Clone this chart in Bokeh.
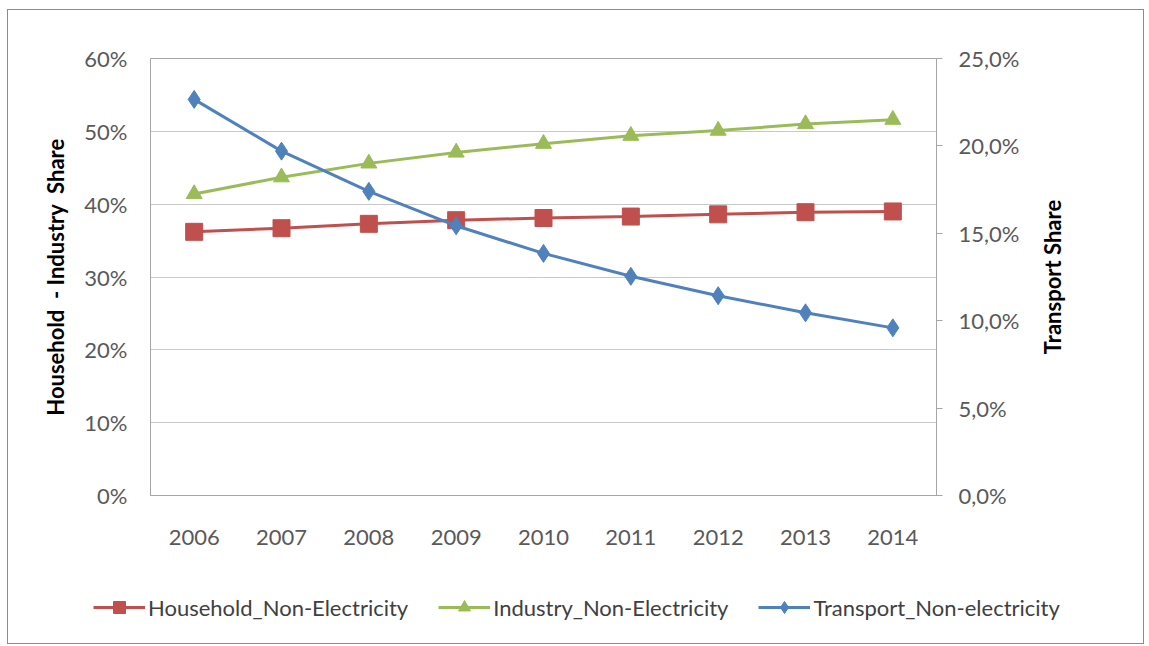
from bokeh.plotting import figure
from bokeh.models import (FactorRange, Range1d, LinearAxis, Legend, LegendItem,
                          FixedTicker, NumeralTickFormatter, CustomJSTickFormatter,
                          Title)
from bokeh.layouts import column, row
from bokeh.embed import file_html
from bokeh.resources import INLINE

years = ["2006", "2007", "2008", "2009", "2010", "2011", "2012", "2013", "2014"]
household = [0.362, 0.367, 0.373, 0.378, 0.381, 0.383, 0.386, 0.389, 0.390]
industry = [0.414, 0.437, 0.456, 0.471, 0.483, 0.494, 0.501, 0.510, 0.516]
transport = [0.2266, 0.197, 0.174, 0.1543, 0.1385, 0.1254, 0.1143, 0.1045, 0.0959]

left_ticks = [0.0, 0.1, 0.2, 0.3, 0.4, 0.5, 0.6]
right_ticks = [0.0, 0.05, 0.10, 0.15, 0.20, 0.25]

series_names = ["Household_Non-Electricity", "Industry_Non-Electricity",
                "Transport_Non-electricity"]

RED = "#C0504D"
GREEN = "#9BBB59"
BLUE = "#4F81BD"
FONT = "Lato"
TXT = "#595959"
LINE = "#A6A6A6"
FS = "22px"

MAIN_W = 1036
TOP_H = 566


def bare(fig):
    fig.outline_line_color = None
    fig.border_fill_color = None
    fig.background_fill_color = None
    fig.xgrid.grid_line_color = None
    fig.ygrid.grid_line_color = None
    if "frame_align" in fig.properties():
        fig.frame_align = False


p = figure(width=MAIN_W, height=TOP_H, x_range=FactorRange(*years),
           y_range=Range1d(0, 0.6), output_backend="svg", toolbar_location=None,
           min_border_left=150, min_border_right=MAIN_W - 936, min_border_top=58,
           min_border_bottom=71)
p.extra_y_ranges = {"right": Range1d(0, 0.25)}
if "frame_align" in p.properties():
    p.frame_align = False

p.border_fill_color = None
p.background_fill_color = "white"
p.outline_line_color = LINE
p.outline_line_width = 1

p.xgrid.grid_line_color = None
p.ygrid.grid_line_color = "#C8C8C8"
p.ygrid.grid_line_width = 1
p.ygrid.ticker = FixedTicker(ticks=left_ticks)

# left axis
ya = p.yaxis[0]
ya.ticker = FixedTicker(ticks=left_ticks)
ya.formatter = NumeralTickFormatter(format="0%")
ya.axis_label = "Household \u00a0- Industry \u00a0Share"
ya.axis_label_text_font = FONT
ya.axis_label_text_font_style = "bold"
ya.axis_label_text_font_size = FS
ya.axis_label_text_color = "black"
ya.axis_label_standoff = 12
ya.major_label_text_font = FONT
ya.major_label_text_font_size = FS
ya.major_label_text_color = TXT
ya.major_label_standoff = 17
ya.major_tick_line_color = None
ya.minor_tick_line_color = None
ya.axis_line_color = LINE

# bottom axis
xa = p.xaxis[0]
xa.major_label_text_font = FONT
xa.major_label_text_font_size = FS
xa.major_label_text_color = TXT
xa.major_label_standoff = 28
xa.major_tick_line_color = None
xa.axis_line_color = LINE

# right axis (its title sits in the strip to the right)
ra = LinearAxis(y_range_name="right")
ra.ticker = FixedTicker(ticks=right_ticks)
ra.formatter = CustomJSTickFormatter(
    code="return (tick * 100).toFixed(1).replace('.', ',') + '%';")
ra.major_label_text_font = FONT
ra.major_label_text_font_size = FS
ra.major_label_text_color = TXT
ra.major_label_standoff = 16
ra.major_tick_out = 6
ra.major_tick_in = 0
ra.major_tick_line_color = LINE
ra.minor_tick_line_color = None
ra.axis_line_color = LINE
p.add_layout(ra, "right")

# series
p.line(years, household, line_color=RED, line_width=3)
p.scatter(years, household, marker="square", size=17, fill_color=RED,
          line_color=RED)
p.line(years, industry, line_color=GREEN, line_width=3)
p.scatter(years, industry, marker="triangle", size=16, fill_color=GREEN,
          line_color=GREEN)
p.line(years, transport, line_color=BLUE, line_width=3, y_range_name="right")
p.scatter(years, transport, marker="diamond", size=18, fill_color=BLUE,
          line_color=BLUE, y_range_name="right")

# strip holding the right-hand axis title, reading bottom-to-top
rf = figure(width=1149 - MAIN_W, height=TOP_H, x_range=Range1d(0, 1),
            y_range=Range1d(0, 1), output_backend="svg", toolbar_location=None,
            min_border_left=0, min_border_right=0, min_border_top=58,
            min_border_bottom=71, x_axis_type=None, y_axis_type=None)
bare(rf)
rf.add_layout(Title(text="Transport Share", align="center", text_font=FONT,
                    text_font_size=FS, text_font_style="bold",
                    text_color="black", standoff=0, offset=0), "left")

# legend strip under the chart; its glyphs reuse the series but sit out of view
lf = figure(width=1149, height=646 - TOP_H, x_range=FactorRange(*years),
            y_range=Range1d(5, 6), output_backend="svg", toolbar_location=None,
            min_border=0, x_axis_type=None, y_axis_type=None)
bare(lf)

items = []
for name, vals, color, marker, size in zip(series_names,
                                           [household, industry, transport],
                                           [RED, GREEN, BLUE],
                                           ["square", "triangle", "diamond"],
                                           [17, 16, 18]):
    ln = lf.line(years, vals, line_color=color, line_width=3)
    mk = lf.scatter(years, vals, marker=marker, size=size, fill_color=color,
                    line_color=color)
    items.append(LegendItem(label=name, renderers=[ln, mk]))

legend = Legend(items=items, orientation="horizontal", location=(93, 24))
legend.label_text_font = FONT
legend.label_text_font_size = FS
legend.label_text_color = "#404040"
legend.glyph_width = 52
legend.glyph_height = 30
legend.label_standoff = 3
legend.spacing = 30
legend.padding = 0
legend.margin = 0
legend.border_line_color = None
legend.background_fill_alpha = 0
lf.add_layout(legend, "center")

layout = column(row(p, rf, spacing=0), lf, spacing=0)

html = file_html(layout, INLINE)
# thin frame around the whole chart
html = html.replace(
    "</body>",
    "<div style=\"position:fixed;left:7px;top:9px;width:1135px;height:633px;"
    "border:1px solid #8c8c8c;pointer-events:none\"></div></body>", 1)
html = html.replace("</head>", "<style>body{margin:0}</style></head>", 1)
open("out.html", "w").write(html)
